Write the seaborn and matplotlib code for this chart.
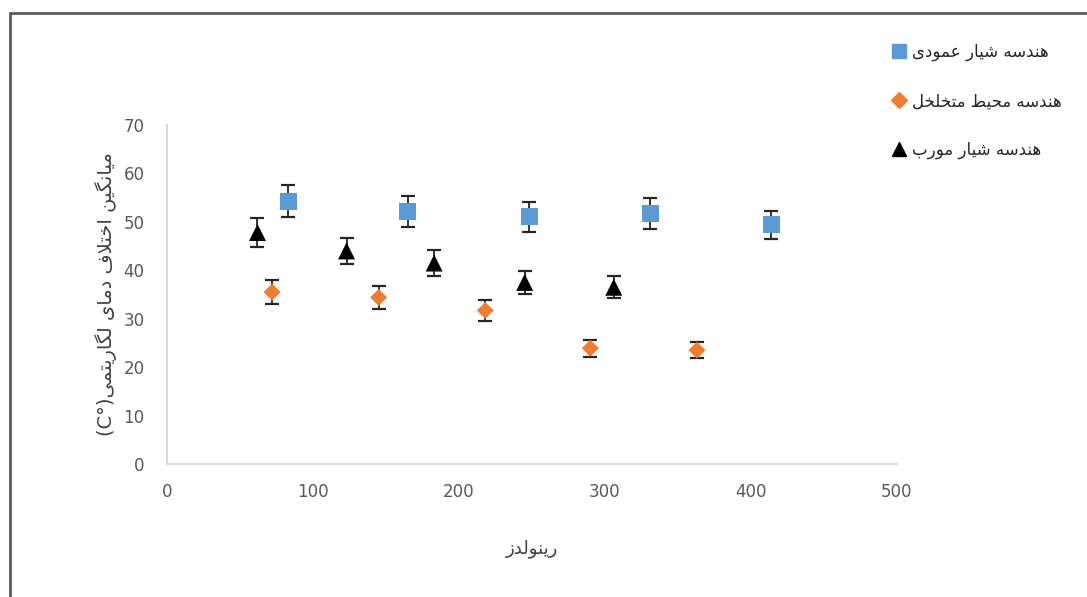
import pandas as pd
import matplotlib.pyplot as plt
import seaborn as sns
from matplotlib.lines import Line2D

# --- data ---
reynolds_vertical = [83, 165, 248, 331, 414]
lmtd_vertical = [54.3, 52.2, 51.1, 51.8, 49.4]
err_vertical = [3.3, 3.2, 3.1, 3.2, 2.9]

reynolds_porous = [72, 145, 218, 290, 363]
lmtd_porous = [35.5, 34.4, 31.7, 23.9, 23.5]
err_porous = [2.5, 2.4, 2.1, 1.8, 1.6]

reynolds_oblique = [62, 123, 183, 245, 306]
lmtd_oblique = [47.8, 44.0, 41.5, 37.5, 36.5]
err_oblique = [3.0, 2.7, 2.6, 2.3, 2.3]

label_vertical = 'هندسه شیار عمودی'
label_porous = 'هندسه محیط متخلخل'
label_oblique = 'هندسه شیار مورب'
xlabel_fa = 'رینولدز'
ylabel_fa = 'میانگین اختلاف دمای لگاریتمی'
ylabel_unit = '(C°)'

x_ticks = [0, 100, 200, 300, 400, 500]
y_ticks = [0, 10, 20, 30, 40, 50, 60, 70]

# --- tiny persian shaper (matplotlib has no complex text layout) ---
# letter: (isolated, final, initial, medial); None -> right-joining only
FORMS = {
    'ا': (0xFE8D, 0xFE8E, None, None),
    'ب': (0xFE8F, 0xFE90, 0xFE91, 0xFE92),
    'ت': (0xFE95, 0xFE96, 0xFE97, 0xFE98),
    'ح': (0xFEA1, 0xFEA2, 0xFEA3, 0xFEA4),
    'خ': (0xFEA5, 0xFEA6, 0xFEA7, 0xFEA8),
    'د': (0xFEA9, 0xFEAA, None, None),
    'ر': (0xFEAD, 0xFEAE, None, None),
    'ز': (0xFEAF, 0xFEB0, None, None),
    'س': (0xFEB1, 0xFEB2, 0xFEB3, 0xFEB4),
    'ش': (0xFEB5, 0xFEB6, 0xFEB7, 0xFEB8),
    'ط': (0xFEC1, 0xFEC2, 0xFEC3, 0xFEC4),
    'ع': (0xFEC9, 0xFECA, 0xFECB, 0xFECC),
    'ف': (0xFED1, 0xFED2, 0xFED3, 0xFED4),
    'ل': (0xFEDD, 0xFEDE, 0xFEDF, 0xFEE0),
    'م': (0xFEE1, 0xFEE2, 0xFEE3, 0xFEE4),
    'ن': (0xFEE5, 0xFEE6, 0xFEE7, 0xFEE8),
    'ه': (0xFEE9, 0xFEEA, 0xFEEB, 0xFEEC),
    'و': (0xFEED, 0xFEEE, None, None),
    'ی': (0xFBFC, 0xFBFD, 0xFBFE, 0xFBFF),
    'گ': (0xFB92, 0xFB93, 0xFB94, 0xFB95),
}


def dual(c):
    return c in FORMS and FORMS[c][2] is not None


def shape(text):
    out = []
    i = 0
    while i < len(text):
        c = text[i]
        if c not in FORMS:
            out.append(c)
            i += 1
            continue
        prev_join = i > 0 and dual(text[i - 1])
        if c == 'ل' and i + 1 < len(text) and text[i + 1] == 'ا':
            out.append(chr(0xFEFC if prev_join else 0xFEFB))
            i += 2
            continue
        next_join = dual(c) and i + 1 < len(text) and text[i + 1] in FORMS
        iso, fin, ini, med = FORMS[c]
        if prev_join and next_join:
            g = med
        elif prev_join:
            g = fin
        elif next_join:
            g = ini
        else:
            g = iso
        out.append(chr(g))
        i += 1
    # right-to-left -> visual order
    return ''.join(out)[::-1]


name_v = shape(label_vertical)
name_p = shape(label_porous)
name_o = shape(label_oblique)

df = pd.DataFrame({
    'Re': reynolds_vertical + reynolds_porous + reynolds_oblique,
    'LMTD': lmtd_vertical + lmtd_porous + lmtd_oblique,
    'err': err_vertical + err_porous + err_oblique,
    'series': [name_v] * len(reynolds_vertical)
              + [name_p] * len(reynolds_porous)
              + [name_o] * len(reynolds_oblique),
})

sns.set_theme(style='white')
plt.rcParams['font.family'] = ['DejaVu Sans']

palette = {name_v: '#5B9BD5', name_p: '#ED7D31', name_o: '#000000'}
markers = {name_v: 's', name_p: 'D', name_o: '^'}
sizes = {name_v: 150, name_p: 75, name_o: 150}

fig = plt.figure(figsize=(10.87, 5.97), dpi=100)
ax = fig.add_axes([0.1536, 0.2228, 0.6716, 0.5678])

for name, g in df.groupby('series', sort=False):
    ax.errorbar(g['Re'], g['LMTD'], yerr=g['err'], fmt='none',
                ecolor='#262626', elinewidth=1.3, capsize=5, capthick=1.6, zorder=2)

sns.scatterplot(data=df, x='Re', y='LMTD', hue='series', style='series',
                size='series', sizes=sizes, palette=palette, markers=markers,
                linewidth=0, ax=ax, zorder=3, legend=False)

ax.set_xlim(0, 500)
ax.set_ylim(0, 70)
ax.set_xticks(x_ticks)
ax.set_yticks(y_ticks)
ax.tick_params(axis='both', length=0, labelsize=12, labelcolor='#595959')
ax.tick_params(axis='y', pad=16)
ax.tick_params(axis='x', pad=14)

for side in ['top', 'right']:
    ax.spines[side].set_visible(False)
for side in ['left', 'bottom']:
    ax.spines[side].set_color('#D9D9D9')
    ax.spines[side].set_linewidth(1.5)

ax.set_xlabel(shape(xlabel_fa), fontsize=13, color='#404040', labelpad=27)
ax.set_ylabel(ylabel_unit + shape(ylabel_fa), fontsize=14, color='#404040', labelpad=5)

handles = [
    Line2D([], [], ls='none', marker=markers[k], color=palette[k],
           markersize=8 if markers[k] == 'D' else 10)
    for k in palette
]
fig.legend(handles, list(palette.keys()), loc='upper left',
           bbox_to_anchor=(0.807, 0.953), frameon=False, fontsize=12,
           labelspacing=1.85, handlelength=0.8, handletextpad=0.4)

# outer frame (left and top edges visible in the reference)
fig.add_artist(Line2D([0.009, 0.009], [0, 0.978], transform=fig.transFigure,
                      color='#595959', lw=2))
fig.add_artist(Line2D([0.009, 1.0], [0.978, 0.978], transform=fig.transFigure,
                      color='#595959', lw=2))

fig.savefig('out.png', dpi=100)
